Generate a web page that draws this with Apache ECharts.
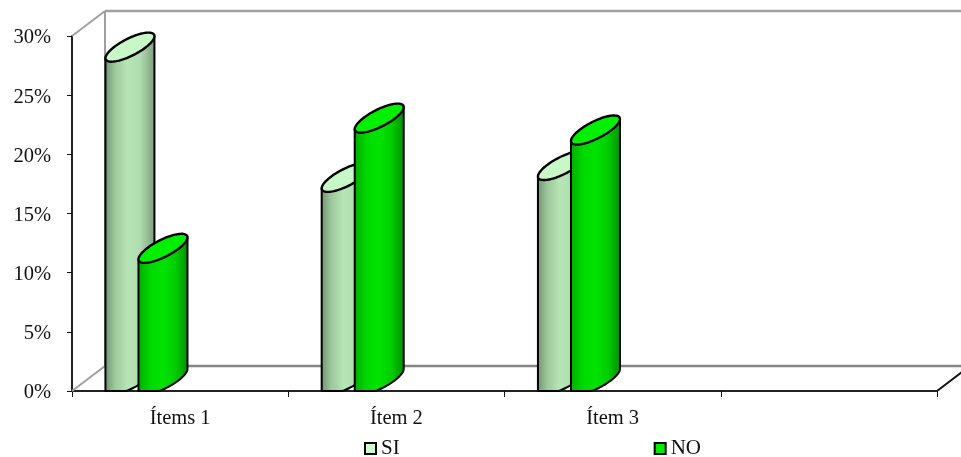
<!DOCTYPE html>
<html>
<head>
<meta charset="utf-8">
<style>html,body{margin:0;padding:0;background:#fff}#c{width:961px;height:457px}</style>
<script src="https://cdn.jsdelivr.net/npm/echarts@6/dist/echarts.min.js"></script>
</head>
<body>
<div id="c"></div>
<script>
const categories = ['Ítems 1', 'Ítem 2', 'Ítem 3', ''];
const siValues = [28, 17, 18];
const noValues = [11, 22, 21];
const yTicksMax = 30;

const FONT = '"Liberation Serif","Times New Roman",serif';
const DEPTH_X = 33, DEPTH_Y = 25;
const CYL_W = 49, RISE = 11, MINOR = 9.5, CAP_LIFT = 1.5;

function siFill(){return {type:'linear',x:0,y:0,x2:1,y2:0,colorStops:[
  {offset:0,color:'#6f8f6f'},{offset:0.2,color:'#9cc79c'},{offset:0.45,color:'#b6e6b6'},
  {offset:0.7,color:'#b0dcb0'},{offset:1,color:'#7a9a7a'}]};}
function noFill(){return {type:'linear',x:0,y:0,x2:1,y2:0,colorStops:[
  {offset:0,color:'#00a800'},{offset:0.25,color:'#00d800'},{offset:0.5,color:'#00e400'},
  {offset:0.75,color:'#00cc00'},{offset:1,color:'#008c00'}]};}

function cylinder(bandOffset, bodyFill, topColor){
  return function(params, api){
    const cat = api.value(0), val = api.value(1);
    const top = api.coord([cat, val]);
    const base = api.coord([cat, 0]);
    const x = top[0] + bandOffset * api.size([1, 0])[0];
    const cx = x + CYL_W / 2;
    const a = CYL_W / 2;
    const topY = top[1] - CAP_LIFT;
    const ell = (cy, t) => [cx + Math.cos(t) * a, cy - Math.cos(t) * RISE + Math.sin(t) * MINOR];
    const N = 48, body = [], cap = [];
    body.push([x, topY]);
    for (let i = 0; i <= N; i++) {
      const p = ell(base[1] - RISE, Math.PI - Math.PI * i / N);
      body.push([p[0], Math.min(p[1], base[1])]);
    }
    body.push([x + CYL_W, topY - 2 * RISE]);
    for (let i = 0; i < N * 2; i++) cap.push(ell(topY - RISE, Math.PI * i / N));
    return {type:'group', children:[
      {type:'polygon', shape:{points:body}, style:{fill:bodyFill, stroke:'#000', lineWidth:2, lineJoin:'round'}},
      {type:'polygon', shape:{points:cap}, style:{fill:topColor, stroke:'#000', lineWidth:2.4}}
    ]};
  };
}

function walls(params, api){
  const g = params.coordSys;
  const l = g.x, r = g.x + g.width, t = g.y, b = g.y + g.height;
  const line = (x1,y1,x2,y2,c,w) => ({type:'line', shape:{x1,y1,x2,y2}, style:{stroke:c, lineWidth:w}});
  return {type:'group', children:[
    line(l+DEPTH_X, t-DEPTH_Y, r+DEPTH_X, t-DEPTH_Y, '#a0a0a0', 2.5),
    line(l+DEPTH_X, t-DEPTH_Y, l+DEPTH_X, b-DEPTH_Y, '#a0a0a0', 2),
    line(l+DEPTH_X, b-DEPTH_Y, r+DEPTH_X, b-DEPTH_Y, '#858585', 2.5),
    line(l, t, l+DEPTH_X, t-DEPTH_Y, '#a0a0a0', 2),
    line(l, b, l+DEPTH_X, b-DEPTH_Y, '#a0a0a0', 2),
    line(r, b, r+DEPTH_X, b-DEPTH_Y, '#111', 2)
  ]};
}

const chart = echarts.init(document.getElementById('c'), null, {renderer:'canvas'});
chart.setOption({
  animation:false,
  backgroundColor:'#fff',
  grid:{left:72, right:24, top:36, bottom:66, containLabel:false},
  legend:{
    data:['SI','NO'], left:364, top:438, itemWidth:11, itemHeight:11, itemGap:254, padding:0,
    icon:'rect', selectedMode:false,
    itemStyle:{borderColor:'#000', borderWidth:2},
    textStyle:{fontFamily:FONT, fontSize:21, color:'#111'}
  },
  xAxis:{
    type:'category', data:categories, boundaryGap:true,
    axisLine:{lineStyle:{color:'#222', width:2}},
    axisTick:{show:true, length:6, lineStyle:{color:'#111', width:1}},
    axisLabel:{fontFamily:FONT, fontSize:20.5, color:'#111', margin:17, interval:0},
    splitLine:{show:false}
  },
  yAxis:{
    type:'value', min:0, max:yTicksMax, interval:5,
    axisLine:{show:true, lineStyle:{color:'#222', width:2}},
    axisTick:{show:true, length:5, lineStyle:{color:'#111', width:1}},
    axisLabel:{fontFamily:FONT, fontSize:20.5, color:'#111', margin:21, verticalAlign:'top', lineHeight:4, formatter:'{value}%'},
    splitLine:{show:false}
  },
  series:[
    {name:'walls', type:'custom', z:1, silent:true, renderItem:walls, data:[[0,0]], encode:{x:0,y:1}},
    {name:'SI', type:'custom', z:2, renderItem:cylinder(-74.6/216, siFill(), '#c8f8c8'),
     itemStyle:{color:'#ccffcc'}, encode:{x:0,y:1}, data:siValues.map((v,i)=>[i,v])},
    {name:'NO', type:'custom', z:3, renderItem:cylinder(-41.6/216, noFill(), '#00f000'),
     itemStyle:{color:'#00ee00'}, encode:{x:0,y:1}, data:noValues.map((v,i)=>[i,v])}
  ]
});
</script>
</body>
</html>
